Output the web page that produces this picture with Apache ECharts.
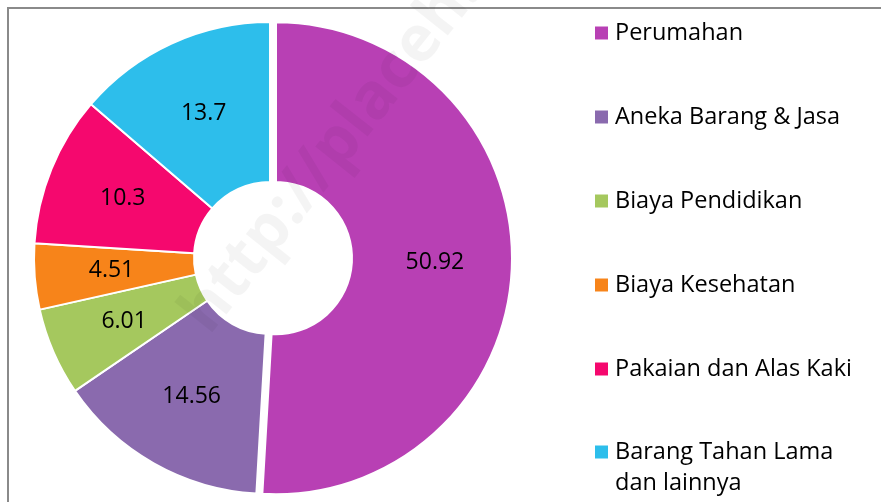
<!DOCTYPE html>
<html>
<head>
<meta charset="utf-8">
<script src="https://cdn.jsdelivr.net/npm/echarts@6/dist/echarts.min.js"></script>
<style>
  html, body { margin: 0; padding: 0; background: #fff; }
  #chart { width: 881px; height: 502px; }
</style>
</head>
<body>
<div id="chart"></div>
<script>
var categories = ['Perumahan', 'Aneka Barang & Jasa', 'Biaya Pendidikan', 'Biaya Kesehatan', 'Pakaian dan Alas Kaki', 'Barang Tahan Lama dan lainnya'];
var values = [50.92, 14.56, 6.01, 4.51, 10.3, 13.7];
var colors = ['#B840B4', '#8A6AAE', '#A5C85E', '#F7841A', '#F5086E', '#2DBEEB'];

var chart = echarts.init(document.getElementById('chart'));

var pieData = categories.map(function (name, i) {
    return {
        name: name,
        value: values[i],
        selected: i === 0,
        itemStyle: { color: colors[i] }
    };
});

var legendText = {
    fontFamily: 'Open Sans',
    fontSize: 23.5,
    lineHeight: 31,
    color: '#000',
    padding: [0, 0, 0, 1]
};

var legendBase = {
    orient: 'vertical',
    left: 593,
    padding: 0,
    itemWidth: 15,
    itemHeight: 15,
    itemGap: 53,
    icon: 'rect',
    selectedMode: false,
    textStyle: legendText
};

// legend kedua hanya untuk item terakhir (dua baris, ikon di baris pertama)
var lastName = categories[categories.length - 1];

var option = {
    animation: false,
    graphic: [
        {
            type: 'rect',
            shape: { x: 8, y: 8, width: 900, height: 600 },
            style: { fill: 'none', stroke: '#8a8a8a', lineWidth: 2 },
            silent: true
        },
        {
            type: 'text',
            x: 170, y: 305,
            rotation: 0.9,
            style: {
                text: 'http://placeh.b',
                font: 'bold 64px "Open Sans"',
                fill: 'rgba(0,0,0,0.045)'
            },
            silent: true,
            z: 100
        }
    ],
    legend: [
        Object.assign({}, legendBase, {
            top: 17.5,
            data: categories.slice(0, categories.length - 1)
        }),
        Object.assign({}, legendBase, {
            top: 405.5,
            data: [lastName],
            // baris kosong di atas supaya ikon sejajar baris pertama
            formatter: function () { return ' \nBarang Tahan Lama\ndan lainnya'; }
        })
    ],
    series: [
        {
            type: 'pie',
            center: [270, 258],
            radius: [76, 236],
            startAngle: 90,
            clockwise: true,
            selectedMode: 'single',
            selectedOffset: 6,
            avoidLabelOverlap: false,
            itemStyle: {
                borderColor: '#fff',
                borderWidth: 2
            },
            label: {
                show: true,
                position: 'inside',
                formatter: '{c}',
                fontFamily: 'Open Sans',
                fontSize: 23,
                color: '#000'
            },
            labelLine: { show: false },
            emphasis: { disabled: true },
            data: pieData
        }
    ]
};

chart.setOption(option);
</script>
</body>
</html>
